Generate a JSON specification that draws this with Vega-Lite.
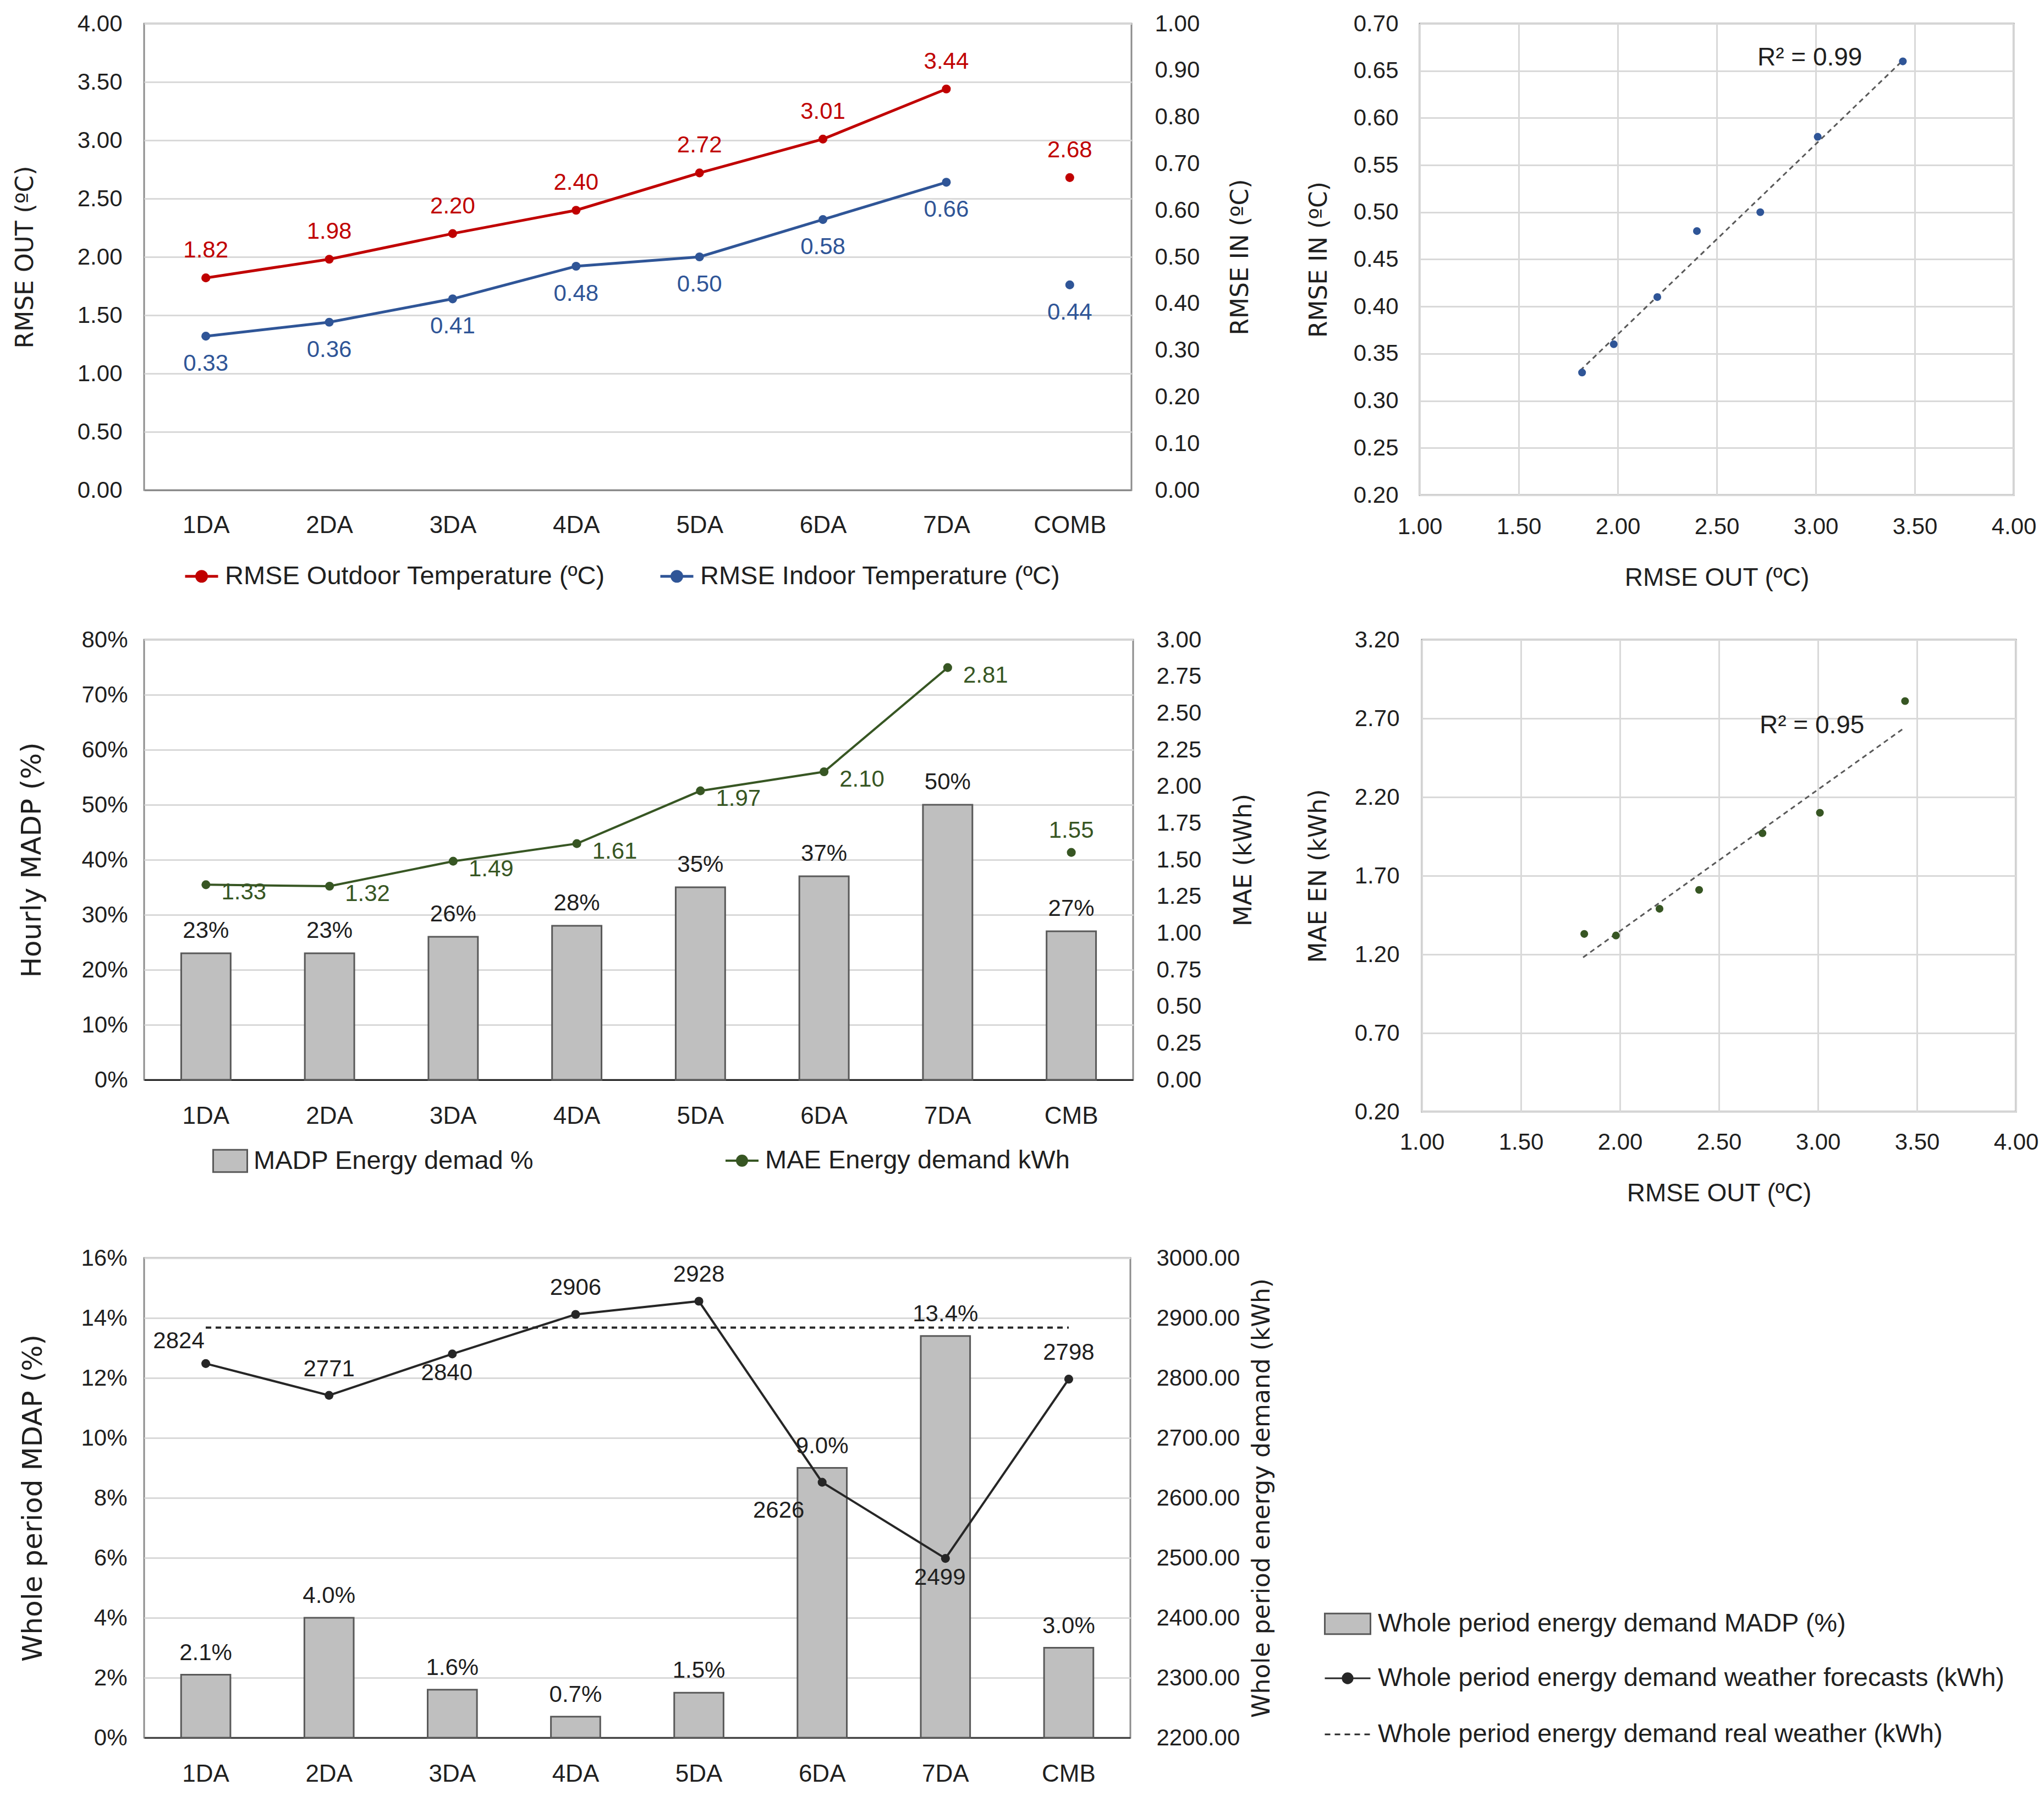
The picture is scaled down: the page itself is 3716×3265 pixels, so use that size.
{
  "$schema": "https://vega.github.io/schema/vega-lite/v6.json",
  "background": "white",
  "padding": {"left": 22, "top": 20, "right": 0, "bottom": 0},
  "config": {
    "view": {"stroke": "#8c8c8c", "strokeWidth": 3},
    "axis": {"labelFont": "Liberation Sans", "labelFontSize": 42, "labelColor": "#1f1f1f", "titleFont": "DejaVu Sans", "titleFontSize": 44, "titleFontWeight": "normal", "titleColor": "#1f1f1f", "ticks": false, "domain": false, "gridColor": "#d9d9d9", "gridWidth": 3, "labelOverlap": false, "labelFlush": false, "labelBound": false},
    "legend": {"labelFont": "Liberation Sans", "labelFontSize": 47, "labelColor": "#1f1f1f", "labelLimit": 0, "padding": 0},
    "text": {"font": "Liberation Sans", "fontSize": 42}
  },
  "datasets": {
    "p1": [
      {"cat": "1DA", "rmse_out": 1.82, "rmse_in": 0.33},
      {"cat": "2DA", "rmse_out": 1.98, "rmse_in": 0.36},
      {"cat": "3DA", "rmse_out": 2.20, "rmse_in": 0.41},
      {"cat": "4DA", "rmse_out": 2.40, "rmse_in": 0.48},
      {"cat": "5DA", "rmse_out": 2.72, "rmse_in": 0.50},
      {"cat": "6DA", "rmse_out": 3.01, "rmse_in": 0.58},
      {"cat": "7DA", "rmse_out": 3.44, "rmse_in": 0.66},
      {"cat": "COMB", "rmse_out": 2.68, "rmse_in": 0.44}
    ],
    "trend_in": [
      {"rmse_out": 1.81, "rmse_in": 0.332},
      {"rmse_out": 3.43, "rmse_in": 0.659}
    ],
    "p3": [
      {"cat": "1DA", "madp": 0.23, "mae": 1.33},
      {"cat": "2DA", "madp": 0.23, "mae": 1.32},
      {"cat": "3DA", "madp": 0.26, "mae": 1.49},
      {"cat": "4DA", "madp": 0.28, "mae": 1.61},
      {"cat": "5DA", "madp": 0.35, "mae": 1.97},
      {"cat": "6DA", "madp": 0.37, "mae": 2.10},
      {"cat": "7DA", "madp": 0.50, "mae": 2.81},
      {"cat": "CMB", "madp": 0.27, "mae": 1.55}
    ],
    "p4": [
      {"rmse_out": 1.82, "mae": 1.33},
      {"rmse_out": 1.98, "mae": 1.32},
      {"rmse_out": 2.20, "mae": 1.49},
      {"rmse_out": 2.40, "mae": 1.61},
      {"rmse_out": 2.72, "mae": 1.97},
      {"rmse_out": 3.01, "mae": 2.10},
      {"rmse_out": 3.44, "mae": 2.81}
    ],
    "trend_mae": [
      {"rmse_out": 1.814, "mae": 1.181},
      {"rmse_out": 3.439, "mae": 2.642}
    ],
    "p5": [
      {"cat": "1DA", "madp": 0.021, "forecast": 2824, "real": 2884},
      {"cat": "2DA", "madp": 0.040, "forecast": 2771, "real": 2884},
      {"cat": "3DA", "madp": 0.016, "forecast": 2840, "real": 2884},
      {"cat": "4DA", "madp": 0.007, "forecast": 2906, "real": 2884},
      {"cat": "5DA", "madp": 0.015, "forecast": 2928, "real": 2884},
      {"cat": "6DA", "madp": 0.090, "forecast": 2626, "real": 2884},
      {"cat": "7DA", "madp": 0.134, "forecast": 2499, "real": 2884},
      {"cat": "CMB", "madp": 0.030, "forecast": 2798, "real": 2884}
    ]
  },
  "resolve": {"scale": {"color": "independent", "fill": "independent", "strokeDash": "independent"}, "legend": {"color": "independent", "fill": "independent", "strokeDash": "independent"}},
  "spacing": 70,
  "vconcat": [
    {
      "spacing": 65,
      "resolve": {"scale": {"color": "independent", "fill": "independent", "strokeDash": "independent"}, "legend": {"color": "independent", "fill": "independent", "strokeDash": "independent"}},
      "vconcat": [
        {
          "spacing": 94,
          "resolve": {"scale": {"color": "independent", "fill": "independent", "strokeDash": "independent"}, "legend": {"color": "independent", "fill": "independent", "strokeDash": "independent"}},
          "hconcat": [
            {
              "width": 1795, "height": 848,
              "data": {"name": "p1"},
              "encoding": {
                "x": {"field": "cat", "type": "nominal", "sort": null, "scale": {"paddingInner": 0.6, "paddingOuter": 0.3},
                  "axis": {"title": null, "labelAngle": 0, "domain": true, "domainColor": "#8c8c8c", "domainWidth": 3, "labelPadding": 42, "labelFontSize": 44, "grid": false}}
              },
              "layer": [
                {
                  "encoding": {"y": {"field": "rmse_out", "type": "quantitative", "scale": {"domain": [0, 4], "nice": false},
                    "axis": {"title": "RMSE OUT (ºC)", "values": [0, 0.5, 1, 1.5, 2, 2.5, 3, 3.5, 4], "format": ".2f", "grid": true, "labelPadding": 40, "titlePadding": 72}}},
                  "layer": [
                    {"transform": [{"filter": "datum.cat !== 'COMB'"}], "mark": {"type": "line", "strokeWidth": 5},
                      "encoding": {"color": {"datum": "RMSE Outdoor Temperature (ºC)", "type": "nominal",
                        "scale": {"domain": ["RMSE Outdoor Temperature (ºC)", "RMSE Indoor Temperature (ºC)"], "range": ["#C00000", "#2F5597"]},
                        "legend": {"orient": "none", "legendX": 72, "legendY": 972, "direction": "horizontal", "title": null,
                          "symbolType": "M-1,0L1,0M0.3,0A0.3,0.3,0,1,1,-0.3,0A0.3,0.3,0,1,1,0.3,0Z", "symbolSize": 3600, "symbolStrokeWidth": 5,
                          "columnPadding": 89, "labelOffset": 10,
                          "encode": {"symbols": {"update": {"fill": {"signal": "datum.index === 0 ? '#C00000' : '#2F5597'"}}}}}}}},
                    {"mark": {"type": "point", "filled": true, "size": 260, "opacity": 1, "color": "#C00000"}},
                    {"mark": {"type": "text", "dy": -50, "color": "#C00000"}, "encoding": {"text": {"field": "rmse_out", "format": ".2f"}}}
                  ]
                },
                {
                  "encoding": {"y": {"field": "rmse_in", "type": "quantitative", "scale": {"domain": [0, 1], "nice": false},
                    "axis": {"orient": "right", "title": "RMSE IN (ºC)", "values": [0, 0.1, 0.2, 0.3, 0.4, 0.5, 0.6, 0.7, 0.8, 0.9, 1], "format": ".2f", "grid": false, "labelPadding": 42, "titlePadding": 53, "titleAngle": 270, "titleBaseline": "top"}}},
                  "layer": [
                    {"transform": [{"filter": "datum.cat !== 'COMB'"}], "mark": {"type": "line", "strokeWidth": 5},
                      "encoding": {"color": {"datum": "RMSE Indoor Temperature (ºC)", "type": "nominal"}}},
                    {"mark": {"type": "point", "filled": true, "size": 260, "opacity": 1, "color": "#2F5597"}},
                    {"mark": {"type": "text", "dy": 50, "color": "#2F5597"}, "encoding": {"text": {"field": "rmse_in", "format": ".2f"}}}
                  ]
                }
              ],
              "resolve": {"scale": {"y": "independent"}}
            },
            {
              "width": 1080, "height": 857,
              "layer": [
                {"data": {"name": "trend_in"}, "mark": {"type": "line", "strokeDash": [9, 7], "strokeWidth": 3, "color": "#595959"},
                  "encoding": {
                    "x": {"field": "rmse_out", "type": "quantitative", "scale": {"domain": [1, 4], "nice": false},
                      "axis": {"title": "RMSE OUT (ºC)", "titleFont": "Liberation Sans", "titleFontSize": 46, "values": [1, 1.5, 2, 2.5, 3, 3.5, 4], "format": ".2f", "grid": true, "labelPadding": 37, "titlePadding": 50}},
                    "y": {"field": "rmse_in", "type": "quantitative", "scale": {"domain": [0.2, 0.7], "nice": false},
                      "axis": {"title": "RMSE IN (ºC)", "values": [0.2, 0.25, 0.3, 0.35, 0.4, 0.45, 0.5, 0.55, 0.6, 0.65, 0.7], "format": ".2f", "grid": true, "labelPadding": 39, "titlePadding": 40}}
                  }},
                {"data": {"name": "p1"}, "transform": [{"filter": "datum.cat !== 'COMB'"}],
                  "mark": {"type": "point", "filled": true, "size": 200, "opacity": 1, "color": "#2F5597"},
                  "encoding": {"x": {"field": "rmse_out", "type": "quantitative"}, "y": {"field": "rmse_in", "type": "quantitative"}}},
                {"data": {"values": [{}]}, "mark": {"type": "text", "fontSize": 46, "color": "#1f1f1f"},
                  "encoding": {"x": {"datum": 2.97, "type": "quantitative"}, "y": {"datum": 0.664, "type": "quantitative"}, "text": {"value": "R² = 0.99"}}}
              ]
            }
          ]
        },
        {
          "spacing": 87,
          "resolve": {"scale": {"color": "independent", "fill": "independent", "strokeDash": "independent"}, "legend": {"color": "independent", "fill": "independent", "strokeDash": "independent"}},
          "hconcat": [
            {
              "width": 1798, "height": 800,
              "data": {"name": "p3"},
              "encoding": {
                "x": {"field": "cat", "type": "nominal", "sort": null, "scale": {"paddingInner": 0.6, "paddingOuter": 0.3},
                  "axis": {"title": null, "labelAngle": 0, "domain": true, "domainColor": "#262626", "domainWidth": 3, "labelPadding": 44, "labelFontSize": 44, "grid": false}}
              },
              "layer": [
                {
                  "encoding": {"y": {"field": "madp", "type": "quantitative", "scale": {"domain": [0, 0.8], "nice": false},
                    "axis": {"title": "Hourly MADP (%)", "titleFontSize": 50, "values": [0, 0.1, 0.2, 0.3, 0.4, 0.5, 0.6, 0.7, 0.8], "format": ".0%", "grid": true, "labelPadding": 30, "titlePadding": 64}}},
                  "layer": [
                    {"mark": {"type": "bar", "stroke": "#595959", "strokeWidth": 3},
                      "encoding": {"fill": {"datum": "MADP Energy demad %", "type": "nominal", "scale": {"range": ["#BFBFBF"]},
                        "legend": {"orient": "none", "legendX": 124, "legendY": 915, "title": null,
                          "symbolType": "M-1,-0.65L1,-0.65L1,0.65L-1,0.65Z", "symbolSize": 3844, "symbolStrokeColor": "#595959", "symbolStrokeWidth": 3, "labelOffset": 10}}}},
                    {"mark": {"type": "text", "dy": -41, "color": "#1f1f1f"}, "encoding": {"text": {"field": "madp", "format": ".0%"}}}
                  ]
                },
                {
                  "encoding": {"y": {"field": "mae", "type": "quantitative", "scale": {"domain": [0, 3], "nice": false},
                    "axis": {"orient": "right", "title": "MAE (kWh)", "values": [0, 0.25, 0.5, 0.75, 1, 1.25, 1.5, 1.75, 2, 2.25, 2.5, 2.75, 3], "format": ".2f", "grid": false, "labelPadding": 42, "titlePadding": 56, "titleAngle": 270, "titleBaseline": "top"}}},
                  "layer": [
                    {"transform": [{"filter": "datum.cat !== 'CMB'"}], "mark": {"type": "line", "strokeWidth": 4},
                      "encoding": {"color": {"datum": "MAE Energy demand kWh", "type": "nominal", "scale": {"range": ["#375623"]},
                        "legend": {"orient": "none", "legendX": 1055, "legendY": 915, "title": null,
                          "symbolType": "M-1,0L1,0M0.3,0A0.3,0.3,0,1,1,-0.3,0A0.3,0.3,0,1,1,0.3,0Z", "symbolSize": 3600, "symbolStrokeWidth": 4, "labelOffset": 10,
                          "encode": {"symbols": {"update": {"fill": {"value": "#375623"}}}}}}}},
                    {"mark": {"type": "point", "filled": true, "size": 260, "opacity": 1, "color": "#375623"}},
                    {"transform": [{"filter": "datum.cat !== 'CMB'"}], "mark": {"type": "text", "align": "left", "dx": 28, "dy": 14, "color": "#375623"}, "encoding": {"text": {"field": "mae", "format": ".2f"}}},
                    {"transform": [{"filter": "datum.cat === 'CMB'"}], "mark": {"type": "text", "dy": -40, "color": "#375623"}, "encoding": {"text": {"field": "mae", "format": ".2f"}}}
                  ]
                }
              ],
              "resolve": {"scale": {"y": "independent"}}
            },
            {
              "width": 1080, "height": 858,
              "layer": [
                {"data": {"name": "trend_mae"}, "mark": {"type": "line", "strokeDash": [9, 7], "strokeWidth": 3, "color": "#595959"},
                  "encoding": {
                    "x": {"field": "rmse_out", "type": "quantitative", "scale": {"domain": [1, 4], "nice": false},
                      "axis": {"title": "RMSE OUT (ºC)", "titleFont": "Liberation Sans", "titleFontSize": 46, "values": [1, 1.5, 2, 2.5, 3, 3.5, 4], "format": ".2f", "grid": true, "labelPadding": 35, "titlePadding": 50}},
                    "y": {"field": "mae", "type": "quantitative", "scale": {"domain": [0.2, 3.2], "nice": false},
                      "axis": {"title": "MAE EN (kWh)", "values": [0.2, 0.7, 1.2, 1.7, 2.2, 2.7, 3.2], "format": ".2f", "grid": true, "labelPadding": 41, "titlePadding": 43}}
                  }},
                {"data": {"name": "p4"},
                  "mark": {"type": "point", "filled": true, "size": 200, "opacity": 1, "color": "#375623"},
                  "encoding": {"x": {"field": "rmse_out", "type": "quantitative"}, "y": {"field": "mae", "type": "quantitative"}}},
                {"data": {"values": [{}]}, "mark": {"type": "text", "fontSize": 46, "color": "#1f1f1f"},
                  "encoding": {"x": {"datum": 2.97, "type": "quantitative"}, "y": {"datum": 2.655, "type": "quantitative"}, "text": {"value": "R² = 0.95"}}}
              ]
            }
          ]
        }
      ]
    },
    {
      "width": 1793, "height": 872,
      "data": {"name": "p5"},
      "encoding": {
        "x": {"field": "cat", "type": "nominal", "sort": null, "scale": {"paddingInner": 0.6, "paddingOuter": 0.3},
          "axis": {"title": null, "labelAngle": 0, "domain": true, "domainColor": "#404040", "domainWidth": 3, "labelPadding": 44, "labelFontSize": 44, "grid": false}}
      },
      "layer": [
        {
          "encoding": {"y": {"field": "madp", "type": "quantitative", "scale": {"domain": [0, 0.16], "nice": false},
            "axis": {"title": "Whole period MDAP (%)", "titleFontSize": 50, "values": [0, 0.02, 0.04, 0.06, 0.08, 0.1, 0.12, 0.14, 0.16], "format": ".0%", "grid": true, "labelPadding": 31, "titlePadding": 61}}},
          "layer": [
            {"mark": {"type": "bar", "stroke": "#595959", "strokeWidth": 3},
              "encoding": {"fill": {"datum": "Whole period energy demand MADP (%)", "type": "nominal", "scale": {"range": ["#BFBFBF"]},
                "legend": {"orient": "none", "legendX": 2145, "legendY": 622, "title": null,
                  "symbolType": "M-1,-0.45L1,-0.45L1,0.45L-1,0.45Z", "symbolSize": 6889, "symbolStrokeColor": "#595959", "symbolStrokeWidth": 3, "labelOffset": 12}}}},
            {"mark": {"type": "text", "dy": -40, "color": "#1f1f1f"}, "encoding": {"text": {"field": "madp", "format": ".1%"}}}
          ]
        },
        {
          "encoding": {"y": {"field": "forecast", "type": "quantitative", "scale": {"domain": [2200, 3000], "nice": false},
            "title": "Whole period energy demand (kWh)",
            "axis": {"orient": "right", "title": "Whole period energy demand (kWh)", "values": [2200, 2300, 2400, 2500, 2600, 2700, 2800, 2900, 3000], "format": ".2f", "grid": false, "labelPadding": 47, "titlePadding": 19, "titleAngle": 270, "titleBaseline": "top"}}},
          "layer": [
            {"mark": {"type": "line", "strokeWidth": 4, "color": "#262626"},
              "encoding": {"y": {"field": "real", "type": "quantitative", "title": "Whole period energy demand (kWh)"},
                "strokeDash": {"datum": "Whole period energy demand real weather (kWh)", "type": "nominal", "scale": {"range": [[10, 8]]},
                  "legend": {"orient": "none", "legendX": 2145, "legendY": 823, "title": null, "symbolType": "stroke", "symbolSize": 6889, "symbolStrokeColor": "#262626", "symbolStrokeWidth": 3, "labelOffset": 12}}}},
            {"mark": {"type": "line", "strokeWidth": 4},
              "encoding": {"color": {"datum": "Whole period energy demand weather forecasts (kWh)", "type": "nominal", "scale": {"range": ["#262626"]},
                "legend": {"orient": "none", "legendX": 2145, "legendY": 721, "title": null,
                  "symbolType": "M-1,0L1,0M0.22,0A0.22,0.22,0,1,1,-0.22,0A0.22,0.22,0,1,1,0.22,0Z", "symbolSize": 6889, "symbolStrokeWidth": 3, "labelOffset": 12,
                  "encode": {"symbols": {"update": {"fill": {"value": "#262626"}}}}}}}},
            {"mark": {"type": "point", "filled": true, "size": 260, "opacity": 1, "color": "#262626"}},
            {"transform": [{"filter": {"field": "cat", "oneOf": ["2DA", "4DA", "5DA", "CMB"]}}], "mark": {"type": "text", "dy": -48, "color": "#1f1f1f"}, "encoding": {"text": {"field": "forecast", "format": "d"}}},
            {"transform": [{"filter": {"field": "cat", "oneOf": ["1DA"]}}], "mark": {"type": "text", "dx": -49, "dy": -41, "color": "#1f1f1f"}, "encoding": {"text": {"field": "forecast", "format": "d"}}},
            {"transform": [{"filter": {"field": "cat", "oneOf": ["3DA", "7DA"]}}], "mark": {"type": "text", "dx": -10, "dy": 35, "color": "#1f1f1f"}, "encoding": {"text": {"field": "forecast", "format": "d"}}},
            {"transform": [{"filter": {"field": "cat", "oneOf": ["6DA"]}}], "mark": {"type": "text", "dx": -79, "dy": 51, "color": "#1f1f1f"}, "encoding": {"text": {"field": "forecast", "format": "d"}}}
          ]
        }
      ],
      "resolve": {"scale": {"y": "independent"}}
    }
  ]
}
